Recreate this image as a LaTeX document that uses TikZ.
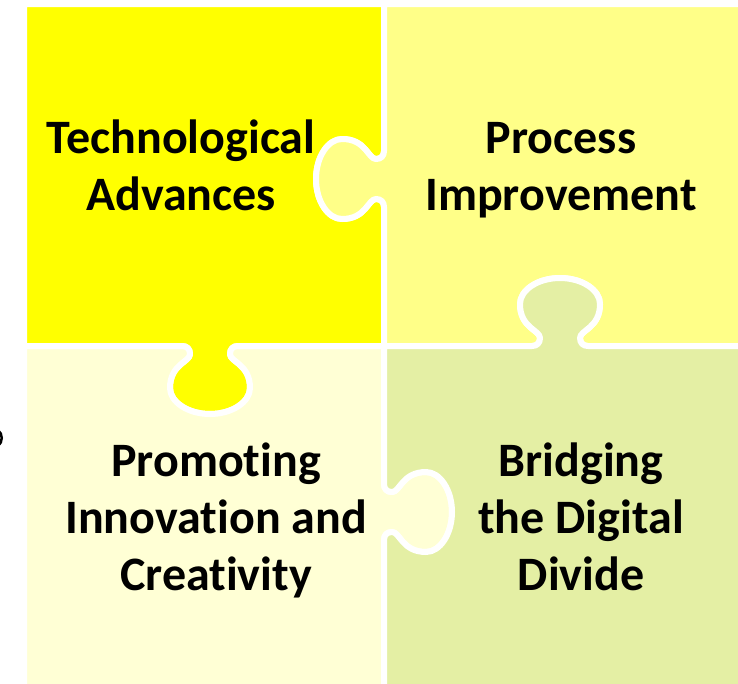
\documentclass[tikz,border=0pt]{standalone}
\usepackage{fontspec}
\setmainfont{Carlito}[Ligatures={NoCommon}]
\usetikzlibrary{positioning}
\definecolor{tileA}{HTML}{FFFF00}
\definecolor{tileB}{HTML}{FFFF88}
\definecolor{tileC}{HTML}{FFFFD5}
\definecolor{tileD}{HTML}{E4EFA4}
\begin{document}
\begin{tikzpicture}[x=1pt,y=1pt,
  tile/.style={fill=#1,draw=white,line width=6pt,line join=round},
  knobfwd/.style={insert path={-- (#1-0) .. controls (#1-1) and (#1-2) .. (#1-3)
    .. controls (#1-4) and (#1-5) .. (#1-6) .. controls (#1-7) and (#1-8) .. (#1-9)
    .. controls (#1-10) and (#1-11) .. (#1-12) .. controls (#1-13) and (#1-14) .. (#1-15)
    .. controls (#1-16) and (#1-17) .. (#1-18)}},
  knobrev/.style={insert path={-- (#1-18) .. controls (#1-17) and (#1-16) .. (#1-15)
    .. controls (#1-14) and (#1-13) .. (#1-12) .. controls (#1-11) and (#1-10) .. (#1-9)
    .. controls (#1-8) and (#1-7) .. (#1-6) .. controls (#1-5) and (#1-4) .. (#1-3)
    .. controls (#1-2) and (#1-1) .. (#1-0)}},
  lbl/.style={font=\fontsize{48}{57}\selectfont\bfseries,align=center,anchor=base,inner sep=0pt}]
\useasboundingbox (0,0) rectangle (738,-683);
% knob outlines: out along x, across along y, then placed on the seams
\foreach \k/\p/\r in {k1/{384,-179}/180, k2/{560,-346}/90, k3/{210,-346}/-90, k4/{384,-512}/0}{
  \begin{scope}[shift={(\p)},rotate=\r]
    \foreach \i/\q in {0/{0,-28},1/{0,-23},2/{3,-20},3/{8,-20},4/{16,-20},5/{18,-40},
      6/{42,-40},7/{56,-40},8/{68,-22},9/{68,0},10/{68,22},11/{56,40},12/{42,40},
      13/{18,40},14/{16,20},15/{8,20},16/{3,20},17/{0,23},18/{0,28}}
      \coordinate (\k-\i) at (\q);
  \end{scope}
}
% the four pieces, each drawn clockwise
\path[tile=tileA] (24,-4) -- (384,-4) [knobfwd=k1]
  -- (384,-346) [knobrev=k3] -- (24,-346) -- cycle;
\path[tile=tileB] (384,-4) -- (745,-4) -- (745,-346) [knobfwd=k2]
  -- (384,-346) [knobrev=k1] -- cycle;
\path[tile=tileC] (24,-346) [knobfwd=k3] -- (384,-346)
  [knobrev=k4] -- (384,-690) -- (24,-690) -- cycle;
\path[tile=tileD] (384,-346) [knobrev=k2] -- (745,-346)
  -- (745,-690) -- (384,-690) [knobfwd=k4] -- cycle;
% labels
\node[lbl] (tech) at (181,-210) {Technological\\Advances};
\node[lbl] (proc) at (561,-210) {Process\\Improvement};
\node[lbl] (promo) at (216,-590) {Promoting\\Innovation and\\Creativity};
\node[lbl] (bridge) at (581,-590) {Bridging\\the Digital\\Divide};
% cut-off mark at the left edge
\draw[line width=2.5pt,line cap=round] (-2,-430) .. controls (3,-434) and (3,-442) .. (-2,-446);
\end{tikzpicture}
\end{document}
